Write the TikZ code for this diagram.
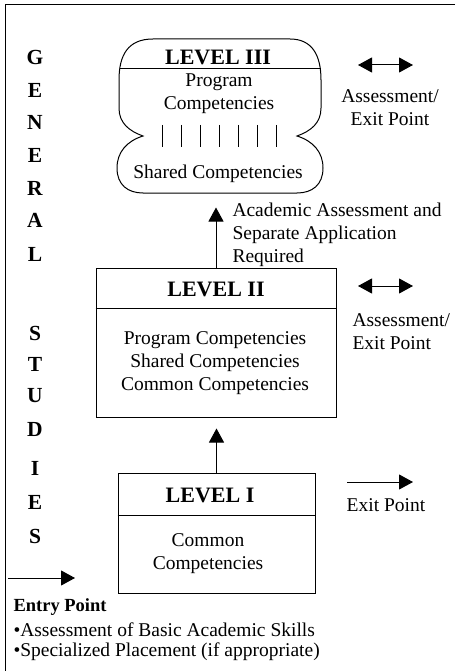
\documentclass[tikz,border=0pt]{standalone}
\usepackage{fontspec}
\setmainfont{Liberation Serif}
\usepackage{tikz}
\usetikzlibrary{arrows.meta,positioning}

\begin{document}
\begin{tikzpicture}[x=1pt,y=-1pt,line width=1pt,>={Triangle[length=14pt,width=15pt]},
  txt/.style={inner sep=0pt,font=\fontsize{19.5}{23}\selectfont},
  lvhead/.style={inner sep=0pt,font=\fontsize{22}{26}\selectfont\bfseries},
  gsletter/.style={inner sep=0pt,font=\fontsize{21.5}{24}\selectfont\bfseries},
  lvbox/.style={draw,inner sep=0pt}]
\useasboundingbox (0,0) rectangle (455,671);
\draw (455,5) -- (5,5) -- (5,671);
\foreach \ch/\y in {G/57,E/90,N/122,E/155,R/188,A/220,L/254,S/333,T/364,U/396,D/429,I/468,E/502,S/536}
  \node[gsletter] (gs\y) at (35,\y) {\ch};
\node[minimum width=206pt,minimum height=154pt,inner sep=0pt] (lvthree) at (220,116) {};
\draw (153,39) -- (290,39) .. controls (312,39) and (321,55) .. (321,80) -- (321,108)
  .. controls (321,123) and (311,131) .. (297,136) .. controls (313,141) and (323,152) .. (323,168)
  .. controls (323,185) and (312,193) .. (297,193) -- (143,193)
  .. controls (128,193) and (117,185) .. (117,168) .. controls (117,152) and (127,141) .. (143,136)
  .. controls (129,131) and (119,123) .. (119,108) -- (119,80) .. controls (119,55) and (128,39) .. (153,39) -- cycle;
\draw (119.5,69) -- (320.5,69);
\foreach \k in {0,...,6}
  \draw[line width=0.8pt] ({162+19*\k},125) -- ({162+19*\k},147);
\node[lvhead] (headthree) at (218,57) {LEVEL III};
\node[txt,align=center] (progthree) at (219,94) {Program\\Competencies};
\node[txt] (sharedthree) at (218,174) {Shared Competencies};
\node[lvbox,minimum width=240pt,minimum height=149pt] (lvtwo) at (216,342.5) {};
\draw ([yshift=-41pt]lvtwo.north west) -- ([yshift=-41pt]lvtwo.north east);
\node[lvhead] (headtwo) at (216,289) {LEVEL II};
\node[txt,align=center] (bodytwo) at (215,363) {Program Competencies\\Shared Competencies\\Common Competencies};
\node[lvbox,minimum width=197pt,minimum height=120pt] (lvone) at (216.5,533) {};
\draw ([yshift=-43pt]lvone.north west) -- ([yshift=-43pt]lvone.north east);
\node[lvhead] (headone) at (210,495) {LEVEL I};
\node[txt,align=center] (bodyone) at (208,553.5) {Common\\Competencies};
\draw[->,shorten >=14pt] (lvtwo.north) -- (lvtwo.north |- lvthree.south);
\draw[->,shorten >=11pt] (lvone.north) -- (lvone.north |- lvtwo.south);
\node[txt,align=left,anchor=west] (reqtwo) at (232,235) {Academic Assessment and\\Separate Application\\Required};
\coordinate (outthreea) at (358,65);
\coordinate (outthreeb) at (413,65);
\draw[<->] (outthreea) -- (outthreeb);
\node[txt,align=center] (exitthree) at (390,107.5) {Assessment/\\Exit Point};
\coordinate (outtwoa) at (358,286);
\coordinate (outtwob) at (413,286);
\draw[<->] (outtwoa) -- (outtwob);
\node[txt,align=left,anchor=west] (exittwo) at (352,332) {Assessment/\\Exit Point};
\coordinate (outonea) at (347,482);
\coordinate (outoneb) at (413,482);
\draw[->] (outonea) -- (outoneb);
\node[txt] (exitone) at (386,505) {Exit Point};
\coordinate (entrya) at (8,578);
\coordinate (entryb) at (75,578);
\draw[->] (entrya) -- (entryb);
\node[inner sep=0pt,anchor=west,font=\fontsize{18.5}{22}\selectfont\bfseries] (entry) at (13,607) {Entry Point};
\node[txt,anchor=west] (entrybasic) at (13,630) {•Assessment of Basic Academic Skills};
\node[txt,anchor=west] (entryplace) at (13,652) {•Specialized Placement (if appropriate)};
\end{tikzpicture}
\end{document}
